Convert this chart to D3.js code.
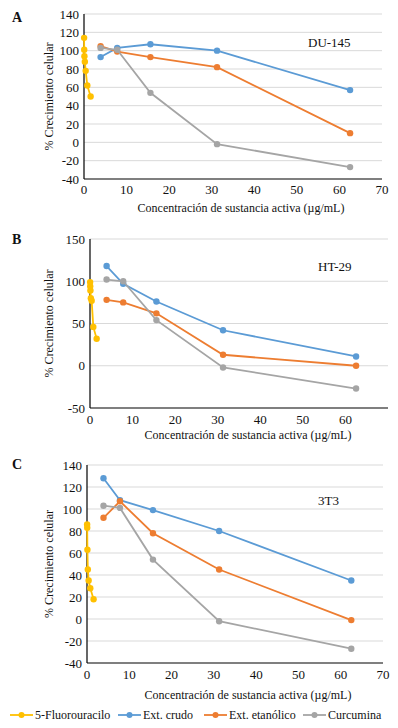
<!DOCTYPE html>
<html>
<head>
<meta charset="utf-8">
<script src="https://cdn.jsdelivr.net/npm/d3@7"></script>
<style>
  body { margin: 0; background: #fff; }
  svg text { fill: #111; }
</style>
</head>
<body>
<div class="canvas"></div>
<script>
// doses (µg/mL)
const fuDoses = [0.024, 0.049, 0.098, 0.195, 0.39, 0.78, 1.56];
const extDoses = [3.9, 7.8, 15.6, 31.25, 62.5];

const seriesNames = ['5-Fluorouracilo', 'Ext. crudo', 'Ext. etanólico', 'Curcumina'];

// % crecimiento celular, panel A (DU-145)
const duFu = [114, 101, 94, 88, 78, 62, 50];
const duCrudo = [93, 103, 107, 100, 57];
const duEtanol = [105, 99, 93, 82, 10];
const duCurc = [103, 101, 54, -2, -27];

// panel B (HT-29)
const htFu = [99, 94, 89, 80, 77, 46, 32];
const htCrudo = [118, 97, 76, 42, 11];
const htEtanol = [78, 75, 62, 13, 0];
const htCurc = [102, 100, 54, -2, -27];

// panel C (3T3)
const t3Fu = [86, 83, 63, 45, 35, 28, 18];
const t3Crudo = [128, 108, 99, 80, 35];
const t3Etanol = [92, 107, 78, 45, -1];
const t3Curc = [103, 101, 54, -2, -27];

const yTicksA = [-40, -20, 0, 20, 40, 60, 80, 100, 120, 140];
const yTicksB = [-50, 0, 50, 100, 150];
const xTicks = [0, 10, 20, 30, 40, 50, 60, 70];
const xTicksB = [0, 10, 20, 30, 40, 50, 60];

const colors = {
    '5-Fluorouracilo': '#FFC000',
    'Ext. crudo': '#5B9BD5',
    'Ext. etanólico': '#ED7D31',
    'Curcumina': '#A5A5A5'
};

const panels = [
    {
        letter: 'A', name: 'DU-145',
        series: [duFu, duCrudo, duEtanol, duCurc],
        yTicks: yTicksA, xTicks: xTicks,
        x0: 84, x1: 382, y0: 179, y1: 14,
        letterY: 22, nameX: 308, nameY: 47, tickY: 194, titleX: 241, titleY: 212
    },
    {
        letter: 'B', name: 'HT-29',
        series: [htFu, htCrudo, htEtanol, htCurc],
        yTicks: yTicksB, xTicks: xTicksB,
        x0: 90, x1: 388, y0: 408, y1: 239,
        letterY: 244, nameX: 318, nameY: 271, tickY: 424, titleX: 248, titleY: 439
    },
    {
        letter: 'C', name: '3T3',
        series: [t3Fu, t3Crudo, t3Etanol, t3Curc],
        yTicks: yTicksA, xTicks: xTicks,
        x0: 87, x1: 383, y0: 663, y1: 465,
        letterY: 469, nameX: 318, nameY: 505, tickY: 679, titleX: 248, titleY: 699
    }
];

const svg = d3.select('.canvas')
    .append('svg')
    .attr('width', 398)
    .attr('height', 728)
    .attr('font-family', "'Liberation Serif', 'DejaVu Serif', serif")

panels.forEach(p => {
    const yDom = d3.extent(p.yTicks)
    const x = d3.scaleLinear().domain([0, 70]).range([p.x0, p.x1])
    const y = d3.scaleLinear().domain(yDom).range([p.y0, p.y1])
    const g = svg.append('g')

    // gridlines
    g.selectAll('line.grid')
        .data(p.yTicks.slice(1))
        .enter().append('line')
        .attr('x1', p.x0).attr('x2', p.x1)
        .attr('y1', d => y(d)).attr('y2', d => y(d))
        .attr('stroke', '#d9d9d9')
        .attr('stroke-width', 1)

    // axes lines
    g.append('line')
        .attr('x1', p.x0).attr('x2', p.x0)
        .attr('y1', p.y1).attr('y2', p.y0)
        .attr('stroke', '#000').attr('stroke-width', 1.2)
    g.append('line')
        .attr('x1', p.x0).attr('x2', p.x1)
        .attr('y1', p.y0).attr('y2', p.y0)
        .attr('stroke', '#000').attr('stroke-width', 1.2)

    // y tick labels
    g.selectAll('text.yt')
        .data(p.yTicks)
        .enter().append('text')
        .attr('x', p.x0 - 5)
        .attr('y', d => y(d) + 4.5)
        .attr('text-anchor', 'end')
        .attr('font-size', 13)
        .text(d => d)

    // x tick labels
    g.selectAll('text.xt')
        .data(p.xTicks)
        .enter().append('text')
        .attr('x', d => x(d))
        .attr('y', p.tickY)
        .attr('text-anchor', 'middle')
        .attr('font-size', 13)
        .text(d => d)

    // titles
    g.append('text')
        .attr('x', p.titleX).attr('y', p.titleY)
        .attr('text-anchor', 'middle')
        .attr('font-size', 12)
        .text('Concentración de sustancia activa (µg/mL)')

    g.append('text')
        .attr('transform', `translate(53, ${(p.y0 + p.y1) / 2}) rotate(-90)`)
        .attr('text-anchor', 'middle')
        .attr('font-size', 12)
        .text('% Crecimiento celular')

    g.append('text')
        .attr('x', 12).attr('y', p.letterY)
        .attr('font-size', 14).attr('font-weight', 'bold')
        .text(p.letter)

    g.append('text')
        .attr('x', p.nameX).attr('y', p.nameY)
        .attr('font-size', 13)
        .text(p.name)

    const line = d3.line().x(d => x(d[0])).y(d => y(d[1]))

    // series
    p.series.forEach((vals, i) => {
        const name = seriesNames[i]
        const doses = i === 0 ? fuDoses : extDoses
        const pts = vals.map((v, j) => [doses[j], v])
        g.append('path')
            .attr('d', line(pts))
            .attr('fill', 'none')
            .attr('stroke', colors[name])
            .attr('stroke-width', 1.8)
        g.selectAll(`circle.s${i}`)
            .data(pts)
            .enter().append('circle')
            .attr('cx', d => x(d[0]))
            .attr('cy', d => y(d[1]))
            .attr('r', 3.2)
            .attr('fill', colors[name])
    })
})

// legend
const legendX = [10, 118, 204, 303];
const legend = svg.append('g')
    .attr('transform', 'translate(0, 715)')

seriesNames.forEach((name, i) => {
    const lg = legend.append('g').attr('transform', `translate(${legendX[i]}, 0)`)
    lg.append('line')
        .attr('x1', 0).attr('x2', 23)
        .attr('stroke', colors[name]).attr('stroke-width', 1.8)
    lg.append('circle')
        .attr('cx', 11.5).attr('r', 3)
        .attr('fill', colors[name])
    lg.append('text')
        .attr('x', 25).attr('y', 4)
        .attr('font-size', 12)
        .text(name)
})
</script>
</body>
</html>
